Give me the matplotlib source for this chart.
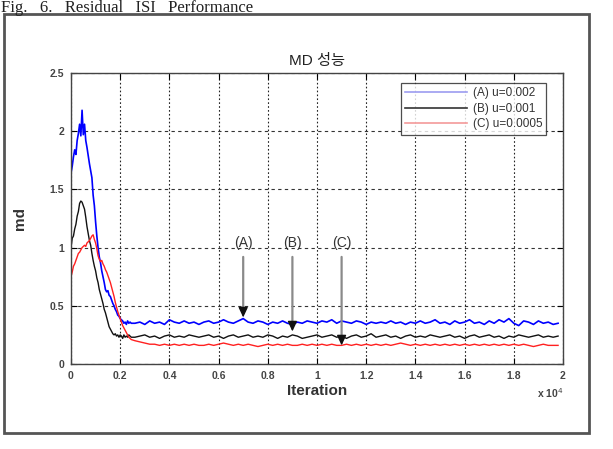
import matplotlib
matplotlib.use("Agg")
import matplotlib.pyplot as plt
import numpy as np
from matplotlib.patches import Rectangle
from matplotlib.ticker import FuncFormatter

plt.rcParams["font.family"] = ["Liberation Sans", "Noto Sans CJK KR", "DejaVu Sans"]

# %% data
iters_transient = np.arange(0, 2500, 50)
iters_steady = np.arange(2600, 19801, 200)

md_a_transient = [
    1.64, 1.70, 1.78, 1.84, 1.80, 1.92, 1.98, 2.06, 1.96, 2.18,
    1.97, 2.06, 1.92, 1.86, 1.79, 1.72, 1.66, 1.60, 1.45, 1.36,
    1.22, 1.10, 1.00, 0.92, 0.87, 0.80, 0.75, 0.70, 0.64, 0.62,
    0.63, 0.59, 0.58, 0.55, 0.52, 0.50, 0.47, 0.45, 0.42, 0.41,
    0.39, 0.38, 0.37, 0.35, 0.36, 0.34, 0.37, 0.35, 0.36, 0.35,
]
md_b_transient = [
    1.00, 1.08, 1.10, 1.16, 1.20, 1.27, 1.31, 1.38, 1.40, 1.39,
    1.36, 1.33, 1.26, 1.18, 1.12, 1.06, 1.02, 0.95, 0.89, 0.84,
    0.80, 0.74, 0.70, 0.64, 0.60, 0.56, 0.52, 0.47, 0.44, 0.40,
    0.36, 0.32, 0.30, 0.28, 0.26, 0.25, 0.26, 0.24, 0.25, 0.23,
    0.25, 0.24, 0.22, 0.25, 0.23, 0.24, 0.23, 0.25, 0.24, 0.23,
]
md_c_transient = [
    0.75, 0.79, 0.84, 0.86, 0.89, 0.92, 0.95, 0.96, 0.98, 1.00,
    1.01, 1.02, 1.01, 1.04, 1.05, 1.06, 1.08, 1.10, 1.11, 1.07,
    1.04, 0.99, 0.93, 0.90, 0.88, 0.89, 0.86, 0.84, 0.81, 0.79,
    0.76, 0.73, 0.70, 0.66, 0.62, 0.58, 0.53, 0.49, 0.45, 0.42,
    0.39, 0.36, 0.33, 0.31, 0.29, 0.27, 0.25, 0.23, 0.22, 0.21,
]

md_a_steady = [
    0.35, 0.36, 0.34, 0.37, 0.35, 0.36, 0.34, 0.38, 0.36, 0.35,
    0.37, 0.35, 0.36, 0.34, 0.36, 0.37, 0.35, 0.36, 0.38, 0.36,
    0.35, 0.37, 0.39, 0.36, 0.35, 0.37, 0.36, 0.34, 0.36, 0.35,
    0.37, 0.35, 0.34, 0.36, 0.35, 0.37, 0.36, 0.35, 0.37, 0.36,
    0.38, 0.35, 0.37, 0.36, 0.35, 0.37, 0.36, 0.34, 0.36, 0.35,
    0.36, 0.35, 0.37, 0.35, 0.36, 0.34, 0.36, 0.35, 0.37, 0.35,
    0.36, 0.38, 0.35, 0.36, 0.34, 0.37, 0.35, 0.36, 0.38, 0.35,
    0.36, 0.34, 0.37, 0.35, 0.38, 0.36, 0.39, 0.35, 0.33, 0.37,
    0.36, 0.34, 0.37, 0.35, 0.36, 0.34, 0.35,
]
md_b_steady = [
    0.23, 0.24, 0.25, 0.23, 0.24, 0.22, 0.24, 0.25, 0.23, 0.24,
    0.23, 0.25, 0.24, 0.23, 0.24, 0.25, 0.23, 0.24, 0.22, 0.24,
    0.25, 0.23, 0.24, 0.25, 0.23, 0.24, 0.23, 0.25, 0.24, 0.22,
    0.24, 0.23, 0.25, 0.24, 0.22, 0.23, 0.24, 0.25, 0.23, 0.24,
    0.25, 0.23, 0.24, 0.22, 0.24, 0.25, 0.23, 0.24, 0.26, 0.23,
    0.24, 0.25, 0.23, 0.24, 0.22, 0.24, 0.25, 0.23, 0.24, 0.23,
    0.25, 0.24, 0.23, 0.24, 0.25, 0.23, 0.24, 0.22, 0.24, 0.25,
    0.23, 0.24, 0.25, 0.23, 0.24, 0.22, 0.24, 0.23, 0.25, 0.24,
    0.23, 0.24, 0.25, 0.23, 0.24, 0.23, 0.24,
]
md_c_steady = [
    0.20, 0.19, 0.18, 0.17, 0.17, 0.16, 0.17, 0.16, 0.17, 0.16,
    0.17, 0.16, 0.17, 0.16, 0.16, 0.17, 0.16, 0.17, 0.18, 0.17,
    0.16, 0.17, 0.16, 0.17, 0.16, 0.15, 0.16, 0.17, 0.16, 0.17,
    0.16, 0.17, 0.16, 0.16, 0.17, 0.16, 0.17, 0.16, 0.17, 0.16,
    0.17, 0.16, 0.16, 0.17, 0.16, 0.17, 0.16, 0.17, 0.16, 0.17,
    0.16, 0.17, 0.16, 0.17, 0.18, 0.17, 0.16, 0.17, 0.16, 0.17,
    0.16, 0.17, 0.16, 0.17, 0.16, 0.17, 0.16, 0.17, 0.16, 0.17,
    0.16, 0.17, 0.16, 0.17, 0.16, 0.17, 0.16, 0.17, 0.16, 0.17,
    0.16, 0.15, 0.16, 0.17, 0.16, 0.16, 0.16,
]

labels = ["(A) u=0.002", "(B) u=0.001", "(C) u=0.0005"]
marks = ["(A)", "(B)", "(C)"]
mark_x = [7000, 9000, 11000]
mark_tip = [0.40, 0.28, 0.16]

# %% plot
iters = np.concatenate([iters_transient, iters_steady])
series = [
    np.concatenate([md_a_transient, md_a_steady]),
    np.concatenate([md_b_transient, md_b_steady]),
    np.concatenate([md_c_transient, md_c_steady]),
]
colors = ["#0000ff", "#111111", "#ff2020"]
widths = [1.2, 1.0, 1.0]
legend_colors = ["#9c9cf0", "#333333", "#f49a9a"]

fig = plt.figure(figsize=(6.13, 4.49), dpi=100)
ax = fig.add_axes([71 / 613, 85 / 449, 492 / 613, 291 / 449])

for y, c, w in zip(series, colors, widths):
    ax.plot(iters, y, color=c, lw=w)

ax.set_xlim(0, 20000)
ax.set_ylim(0, 2.5)
ax.set_xticks(np.arange(0, 20001, 2000))
ax.set_yticks([0, 0.5, 1, 1.5, 2, 2.5])
ax.xaxis.set_major_formatter(FuncFormatter(lambda v, p: "%g" % (v / 1e4)))
ax.yaxis.set_major_formatter(FuncFormatter(lambda v, p: "%g" % v))
ax.tick_params(direction="in", top=True, right=True, length=4, width=0.8,
               labelsize=7.5, labelcolor="#444444", pad=5)
for lab in ax.get_xticklabels() + ax.get_yticklabels():
    lab.set_fontweight("bold")
for s in ax.spines.values():
    s.set_color("#444444")
    s.set_linewidth(1.0)

ax.xaxis.grid(True, color="#222222", lw=0.8, linestyle=(0, (1.5, 2)))
ax.yaxis.grid(True, color="#333333", lw=0.8, linestyle=(0, (3, 3)))

ax.set_title("MD 성능", fontsize=11, color="#222222", pad=6)
ax.set_xlabel("Iteration", fontsize=11, fontweight="bold", color="#333333", labelpad=2)
ax.set_ylabel("md", fontsize=11, fontweight="bold", color="#333333", labelpad=16)
ax.text(1.0, -0.075, "x 10$^4$", transform=ax.transAxes, ha="right", va="top",
        fontsize=7.5, fontweight="bold", color="#444444")

# arrows (A) (B) (C): gray shaft, black head
for m, xm, tip in zip(marks, mark_x, mark_tip):
    ax.text(xm, 1.04, m, ha="center", va="center", fontsize=10, color="#333333")
    ax.annotate("", xy=(xm, tip + 0.05), xytext=(xm, 0.92),
                arrowprops=dict(arrowstyle="-", color="#8a8a8a", lw=1.6,
                                shrinkA=0, shrinkB=0))
    ax.annotate("", xy=(xm, tip), xytext=(xm, tip + 0.08),
                arrowprops=dict(arrowstyle="-|>,head_length=0.6,head_width=0.28",
                                fc="#111111", ec="#111111", lw=1.0,
                                shrinkA=0, shrinkB=0))

handles = [plt.Line2D([], [], color=c, lw=1.2) for c in legend_colors]
leg = ax.legend(handles, labels, loc="upper right", bbox_to_anchor=(0.978, 0.985),
                fontsize=8.5, frameon=True, fancybox=False, handlelength=5.2,
                borderpad=0.35, labelspacing=0.3, handletextpad=0.5)
leg.get_frame().set_edgecolor("#222222")
leg.get_frame().set_linewidth(0.9)
for t in leg.get_texts():
    t.set_color("#333333")

# outer frame and caption above it
fig.patches.append(Rectangle((4 / 613, 16 / 449), 585 / 613, 419 / 449,
                             transform=fig.transFigure, fill=False,
                             ec="#555555", lw=2.0))
fig.text(1 / 613, 1 - 12 / 449, "Fig.   6.   Residual   ISI   Performance",
         family="Liberation Serif", fontsize=12, va="baseline", ha="left",
         color="#222222")

plt.savefig("out.png", dpi=100)
